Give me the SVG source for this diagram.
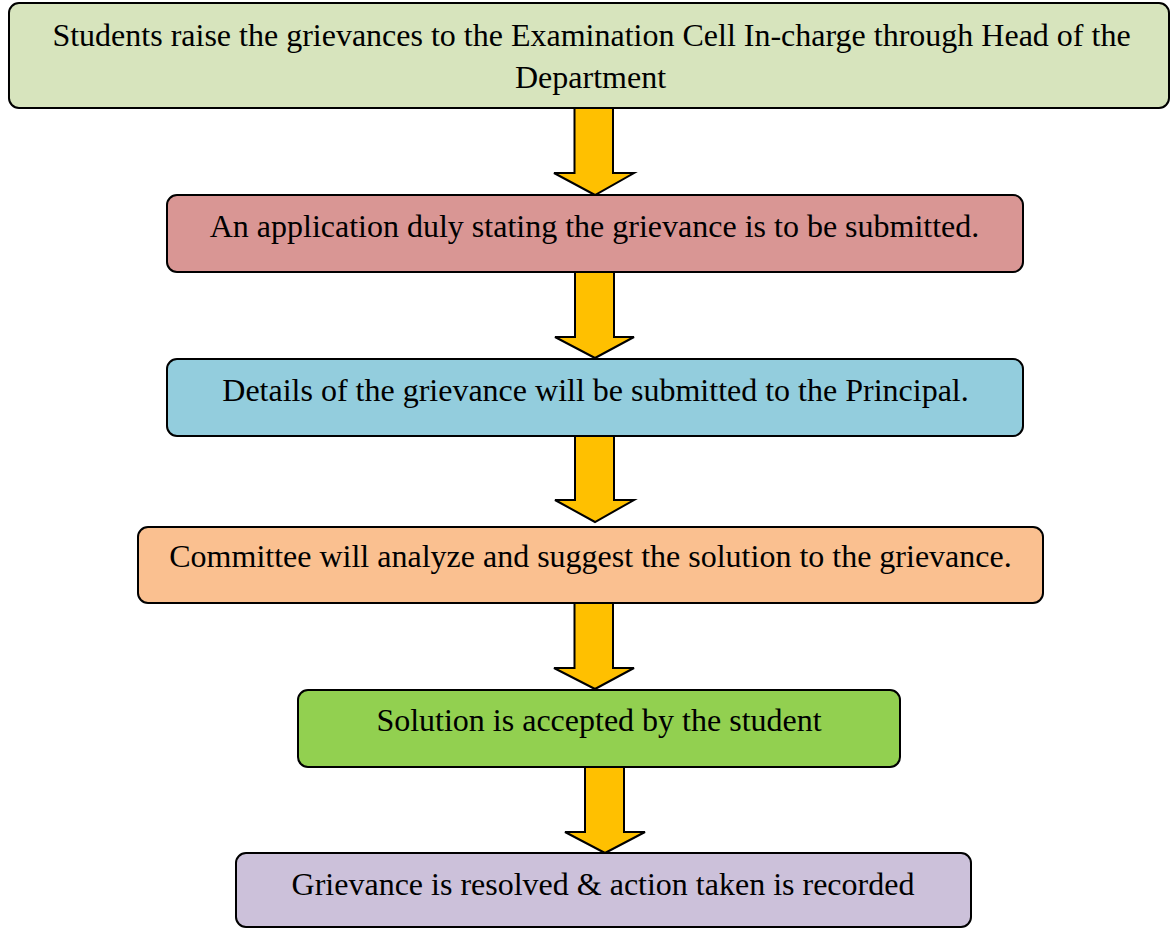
<svg xmlns="http://www.w3.org/2000/svg" width="1171" height="928" viewBox="0 0 1171 928">
<style>
.box{stroke:#000;stroke-width:2}
.t{font-family:'Liberation Serif','Times New Roman',serif;font-size:32px;fill:#000;text-anchor:middle}
.arr{fill:#FFC000;stroke:#000;stroke-width:2;stroke-linejoin:miter}
</style>
<rect width="1171" height="928" fill="#fff"/>
<g id="connectors">
<polygon class="arr" points="574.5,108 613,108 613,173 634,173 595,195 554,173 574.5,173"/>
<polygon class="arr" points="575,272 614,272 614,337 634,337 595,358 555,337 575,337"/>
<polygon class="arr" points="575,436 614,436 614,500 634,500 595,522 555,500 575,500"/>
<polygon class="arr" points="574.5,603 613,603 613,668 634,668 595,689 554,668 574.5,668"/>
<polygon class="arr" points="585,767 624,767 624,832 645,832 605,853 565,832 585,832"/>
</g>
<g id="n1">
<rect class="box" x="9" y="3" width="1160" height="105" rx="10" fill="#D7E4BD"/>
<text class="t" x="591.5" y="46">Students raise the grievances to the Examination Cell In-charge through Head of the</text>
<text class="t" x="590.5" y="88">Department</text>
</g>
<g id="n2">
<rect class="box" x="167" y="195" width="856" height="77" rx="10" fill="#D99694"/>
<text class="t" x="594.5" y="237">An application duly stating the grievance is to be submitted.</text>
</g>
<g id="n3">
<rect class="box" x="167" y="359" width="856" height="77" rx="10" fill="#93CDDD"/>
<text class="t" x="595.5" y="401">Details of the grievance will be submitted to the Principal.</text>
</g>
<g id="n4">
<rect class="box" x="138" y="527" width="905" height="76" rx="10" fill="#FAC090"/>
<text class="t" x="590.5" y="567">Committee will analyze and suggest the solution to the grievance.</text>
</g>
<g id="n5">
<rect class="box" x="298" y="690" width="602" height="77" rx="10" fill="#92D050"/>
<text class="t" x="599" y="731">Solution is accepted by the student</text>
</g>
<g id="n6">
<rect class="box" x="236" y="853" width="735" height="74" rx="10" fill="#CCC1DA"/>
<text class="t" x="603" y="895">Grievance is resolved &amp; action taken is recorded</text>
</g>
</svg>
